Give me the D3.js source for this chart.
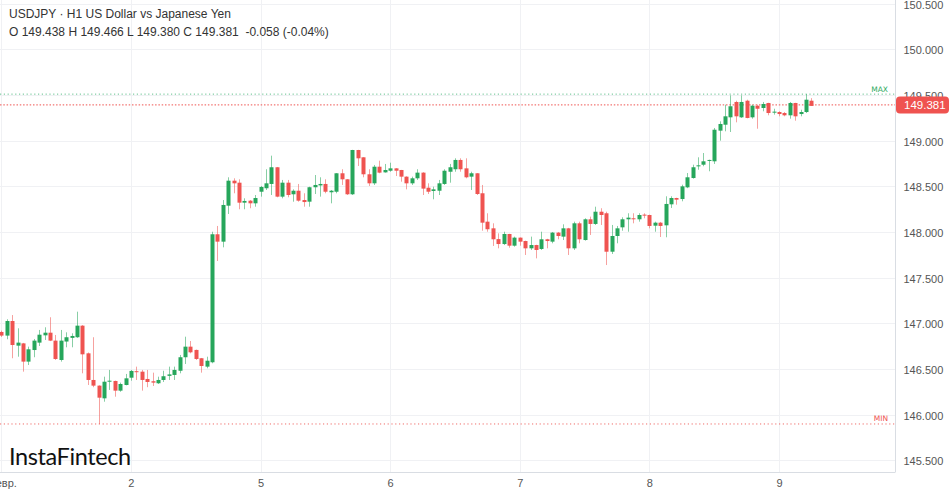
<!DOCTYPE html>
<html>
<head>
<meta charset="utf-8">
<script src="https://cdn.jsdelivr.net/npm/d3@7"></script>
<style>
  html, body { margin: 0; padding: 0; background: #ffffff; }
  svg { display: block; }
</style>
</head>
<body>
<svg id="chart" width="949" height="494"></svg>
<script>
// ---- Data (USDJPY H1) ----
const opens = [146.905,146.865,147.025,146.755,146.78,146.58,146.707,146.788,146.868,146.897,
146.81,146.598,146.8,146.84,146.847,146.974,146.671,146.379,146.317,146.178,
146.36,146.368,146.262,146.324,146.404,146.475,146.47,146.39,146.365,146.343,
146.379,146.424,146.434,146.48,146.628,146.744,146.708,146.617,146.525,146.573,
147.975,147.894,148.288,148.562,148.54,148.321,148.343,148.314,148.441,148.479,
148.526,148.709,148.387,148.54,148.413,148.452,148.35,148.332,148.49,148.51,
148.526,148.435,148.441,148.643,148.577,148.413,148.898,148.818,148.632,148.533,
148.715,148.653,148.671,148.697,148.679,148.606,148.533,148.588,148.65,148.485,
148.449,148.452,148.526,148.66,148.687,148.789,148.697,148.606,148.643,148.424,
148.113,148.04,147.922,147.868,147.978,147.85,147.938,147.901,147.821,147.857,
147.814,147.92,147.894,147.993,147.949,148.04,147.821,148.095,147.912,148.139,
148.088,148.222,148.205,147.784,147.956,148.051,148.139,148.15,148.139,148.19,
148.186,148.069,148.102,148.073,148.303,148.372,148.361,148.489,148.591,148.723,
148.737,148.781,148.774,149.11,149.175,149.256,149.424,149.256,149.438,149.256,
149.383,149.358,149.413,149.311,149.314,149.303,149.278,149.413,149.292,149.314,
149.438];
const highs = [146.92,147.044,147.09,146.945,146.785,146.744,146.828,146.927,146.956,147.066,
146.872,146.927,146.901,146.89,147.127,146.98,146.68,146.847,146.32,146.415,
146.489,146.372,146.35,146.445,146.489,146.525,146.489,146.489,146.459,146.415,
146.48,146.525,146.525,146.653,146.853,146.806,146.712,146.62,146.634,148.003,
148.066,148.35,148.599,148.588,148.577,148.369,148.35,148.405,148.504,148.687,
148.836,148.712,148.57,148.57,148.467,148.526,148.424,148.496,148.624,148.599,
148.577,148.46,148.645,148.687,148.58,148.9,148.9,148.82,148.687,148.734,
148.781,148.745,148.759,148.7,148.68,148.61,148.606,148.687,148.655,148.533,
148.496,148.57,148.687,148.745,148.807,148.807,148.807,148.66,148.645,148.515,
148.205,148.095,147.985,148.003,147.98,147.949,147.94,147.905,147.949,147.86,
148.003,147.925,148.0,148.0,148.084,148.045,148.113,148.113,148.15,148.168,
148.277,148.26,148.222,148.077,148.066,148.161,148.205,148.205,148.205,148.205,
148.19,148.113,148.11,148.391,148.391,148.375,148.518,148.646,148.737,148.818,
148.865,148.792,149.139,149.212,149.394,149.497,149.438,149.497,149.449,149.394,
149.394,149.424,149.415,149.35,149.322,149.314,149.424,149.415,149.339,149.51,
149.466];
const lows = [146.85,146.825,146.617,146.634,146.47,146.543,146.628,146.751,146.817,146.805,
146.598,146.58,146.737,146.737,146.84,146.452,146.324,146.3,145.897,146.141,
146.27,146.196,146.25,146.32,146.371,146.379,146.262,146.3,146.313,146.335,
146.357,146.379,146.379,146.452,146.554,146.671,146.598,146.459,146.507,146.562,
147.682,147.832,148.197,148.424,148.249,148.249,148.26,148.277,148.387,148.46,
148.405,148.38,148.369,148.38,148.332,148.332,148.277,148.277,148.416,148.387,
148.424,148.314,148.424,148.515,148.405,148.405,148.723,148.599,148.504,148.515,
148.643,148.65,148.66,148.613,148.551,148.467,148.515,148.57,148.405,148.416,
148.358,148.405,148.515,148.54,148.66,148.66,148.588,148.46,148.405,148.014,
148.003,147.847,147.821,147.857,147.828,147.839,147.85,147.748,147.803,147.711,
147.803,147.821,147.876,147.92,147.912,147.748,147.803,147.876,147.905,147.967,
148.077,148.077,147.638,147.759,147.876,148.014,148.003,148.095,148.113,148.15,
148.04,148.003,147.945,147.942,148.263,148.299,148.336,148.48,148.584,148.682,
148.72,148.665,148.745,149.0,149.103,149.095,149.201,149.249,149.245,149.241,
149.131,149.322,149.278,149.285,149.267,149.267,149.241,149.219,149.267,149.303,
149.380];
const closes = [146.865,147.025,146.762,146.788,146.58,146.715,146.81,146.875,146.897,146.81,
146.609,146.81,146.847,146.861,146.974,146.66,146.379,146.317,146.185,146.36,
146.371,146.262,146.335,146.397,146.478,146.466,146.379,146.357,146.35,146.379,
146.42,146.44,146.489,146.628,146.744,146.682,146.609,146.532,146.59,147.975,
147.894,148.296,148.562,148.533,148.321,148.34,148.314,148.372,148.493,148.533,
148.709,148.387,148.54,148.405,148.452,148.343,148.328,148.49,148.515,148.526,
148.441,148.452,148.643,148.577,148.413,148.898,148.807,148.632,148.533,148.715,
148.65,148.679,148.697,148.671,148.606,148.533,148.588,148.65,148.475,148.441,
148.467,148.533,148.671,148.709,148.789,148.687,148.599,148.643,148.416,148.102,
148.03,147.92,147.868,147.978,147.85,147.938,147.894,147.821,147.857,147.803,
147.92,147.901,147.993,147.956,148.04,147.821,148.095,147.92,148.139,148.088,
148.222,148.186,147.784,147.956,148.04,148.139,148.157,148.145,148.186,148.18,
148.066,148.102,148.066,148.307,148.372,148.354,148.5,148.599,148.709,148.73,
148.774,148.789,149.12,149.183,149.267,149.377,149.267,149.424,149.249,149.383,
149.35,149.402,149.303,149.318,149.292,149.278,149.413,149.267,149.314,149.449,
149.381];

const dayLabels = ["февр.", "2", "5", "6", "7", "8", "9"];
const dayIndex  = [0, 24, 48, 72, 96, 120, 144];
const priceTicks = [145.5, 146.0, 146.5, 147.0, 147.5, 148.0, 148.5, 149.0, 149.5, 150.0, 150.5];

const titleLine = "USDJPY · H1 US Dollar vs Japanese Yen";
const ohlcLine = "O 149.438 H 149.466 L 149.380 C 149.381  -0.058 (-0.04%)";

// ---- Layout ----
const W = 949, H = 494;
const plotRight = 895.5, plotBottom = 472;
const UP = "#26a65b", DOWN = "#ef5350";

const svg = d3.select("#chart");
const candles = opens.map((o, i) => ({i, o, h: highs[i], l: lows[i], c: closes[i]}));

const x = d3.scaleLinear().domain([0, 144]).range([1.3, 779]);
const y = d3.scaleLinear().domain([145.371, 150.541]).range([plotBottom, 0]);

// grid
const grid = svg.append("g");
grid.selectAll("line.h").data(priceTicks).join("line")
  .attr("x1", 0).attr("x2", plotRight)
  .attr("y1", d => Math.round(y(d)) + 0.5).attr("y2", d => Math.round(y(d)) + 0.5)
  .attr("stroke", "#f0f1f4").attr("stroke-width", 1);
grid.selectAll("line.v").data(dayIndex).join("line")
  .attr("x1", d => Math.round(x(d)) + 0.5).attr("x2", d => Math.round(x(d)) + 0.5)
  .attr("y1", 0).attr("y2", plotBottom)
  .attr("stroke", "#f0f1f4").attr("stroke-width", 1);

// logo
svg.append("text")
  .attr("x", 9).attr("y", 465)
  .attr("font-family", "Lato, 'Open Sans', sans-serif")
  .attr("font-size", 23.5).attr("font-weight", 400)
  .attr("fill", "#111")
  .attr("letter-spacing", "-0.4")
  .text("InstaFintech");

// min / max lines
const maxV = d3.max(highs), minV = d3.min(lows);
svg.append("line").attr("x1", 0).attr("x2", plotRight)
  .attr("y1", y(maxV)).attr("y2", y(maxV))
  .attr("stroke", "#3cb371").attr("stroke-width", 1).attr("stroke-dasharray", "1.2,2.6").attr("opacity", 0.8);
svg.append("line").attr("x1", 0).attr("x2", plotRight)
  .attr("y1", y(minV)).attr("y2", y(minV))
  .attr("stroke", "#ef5350").attr("stroke-width", 1).attr("stroke-dasharray", "1.2,2.6").attr("opacity", 0.85);
svg.append("text").attr("x", 888).attr("y", y(maxV) - 2.5)
  .attr("text-anchor", "end").attr("font-family", "'DejaVu Sans', sans-serif")
  .attr("font-size", 7.5).attr("fill", "#2eaa5e").text("MAX");
svg.append("text").attr("x", 888).attr("y", y(minV) - 3)
  .attr("text-anchor", "end").attr("font-family", "'DejaVu Sans', sans-serif")
  .attr("font-size", 7.5).attr("fill", "#ef5350").text("MIN");

// last price line
const last = closes[closes.length - 1];
svg.append("line").attr("x1", 0).attr("x2", plotRight)
  .attr("y1", y(last) - 1).attr("y2", y(last) - 1)
  .attr("stroke", "#ef5350").attr("stroke-width", 1).attr("stroke-dasharray", "1.5,1.8");

// candles
const bw = 4;
const cg = svg.append("g");
cg.selectAll("line.wick").data(candles).join("line")
  .attr("x1", d => Math.round(x(d.i)) + 0.5).attr("x2", d => Math.round(x(d.i)) + 0.5)
  .attr("y1", d => y(d.h)).attr("y2", d => y(d.l))
  .attr("stroke", d => d.c >= d.o ? UP : DOWN)
  .attr("stroke-opacity", 0.55).attr("stroke-width", 1);
cg.selectAll("rect.body").data(candles).join("rect")
  .attr("x", d => Math.round(x(d.i)) - 1.5)
  .attr("width", bw)
  .attr("y", d => y(Math.max(d.o, d.c)))
  .attr("height", d => Math.max(1, Math.abs(y(d.o) - y(d.c))))
  .attr("fill", d => d.c >= d.o ? UP : DOWN);

// axes lines
svg.append("line").attr("x1", plotRight).attr("x2", plotRight).attr("y1", 0).attr("y2", plotBottom)
  .attr("stroke", "#d9dde3");
svg.append("line").attr("x1", 0).attr("x2", plotRight).attr("y1", plotBottom + 0.5).attr("y2", plotBottom + 0.5)
  .attr("stroke", "#d9dde3");

// right axis
const yAxis = d3.axisRight(y).tickValues(priceTicks).tickFormat(d3.format(".3f")).tickSize(0).tickPadding(8);
const ya = svg.append("g").attr("transform", `translate(${plotRight},1)`).call(yAxis);
ya.select(".domain").remove();
ya.selectAll("text").attr("font-family", "'Liberation Sans', Arial, sans-serif")
  .attr("font-size", 11).attr("fill", "#555");

// bottom axis
const xAxis = d3.axisBottom(x).tickValues(dayIndex).tickFormat((d, i) => dayLabels[i]).tickSize(0).tickPadding(7);
const xa = svg.append("g").attr("transform", `translate(0,${plotBottom})`).call(xAxis);
xa.select(".domain").remove();
xa.selectAll("text").attr("font-family", "'Liberation Sans', Arial, sans-serif")
  .attr("font-size", 11).attr("fill", "#555");

// last price label
const ly = y(last) - 1;
svg.append("rect").attr("x", 896).attr("y", ly - 8.5).attr("width", 53).attr("height", 17)
  .attr("rx", 4).attr("fill", "#ef5350");
svg.append("text").attr("x", 904).attr("y", ly + 4)
  .attr("font-family", "'Liberation Sans', Arial, sans-serif").attr("font-size", 11.5)
  .attr("fill", "#fff").text(d3.format(".3f")(last));

// header
svg.append("text").attr("x", 9).attr("y", 18)
  .attr("font-family", "'Liberation Sans', Arial, sans-serif").attr("font-size", 12)
  .attr("fill", "#333").text(titleLine);
svg.append("text").attr("x", 9).attr("y", 36)
  .attr("font-family", "'Liberation Sans', Arial, sans-serif").attr("font-size", 12)
  .attr("fill", "#333").style("white-space", "pre").text(ohlcLine);
</script>
</body>
</html>
